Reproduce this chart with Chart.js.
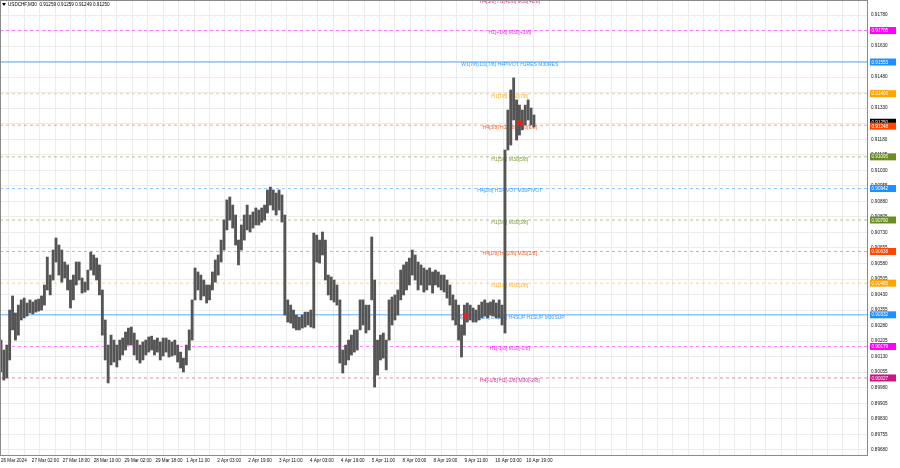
<!DOCTYPE html>
<html><head><meta charset="utf-8">
<script src="https://cdn.jsdelivr.net/npm/chart.js@4.4.1/dist/chart.umd.min.js"></script>
<style>html,body{margin:0;padding:0;background:#fff;}#wrap{width:900px;height:468px;}</style>
</head><body><div id="wrap"><canvas id="c" width="900" height="468"></canvas></div>
<script>
const symbolTitle = "USDCHF,M30  0.91259 0.91259 0.91249 0.91250";
const timeLabels = ["26 Mar 2024","27 Mar 02:00","27 Mar 18:00","28 Mar 10:00","29 Mar 02:00","29 Mar 18:00","1 Apr 11:00","2 Apr 03:00","2 Apr 19:00","3 Apr 11:00","4 Apr 03:00","4 Apr 19:00","5 Apr 11:00","8 Apr 03:00","8 Apr 19:00","9 Apr 11:00","10 Apr 03:00","10 Apr 19:00"];
const barStep = 3;
const highs = [
0.90210,0.90162,0.90186,0.90355,0.90423,0.90341,0.90379,0.90404,0.90413,0.90389,
0.90404,0.90394,0.90404,0.90408,0.90423,0.90476,0.90611,0.90524,0.90645,0.90703,
0.90669,0.90645,0.90587,0.90573,0.90500,0.90524,0.90587,0.90587,0.90510,0.90490,
0.90548,0.90635,0.90621,0.90606,0.90573,0.90452,0.90307,0.90186,0.90234,0.90210,
0.90186,0.90210,0.90220,0.90249,0.90268,0.90273,0.90244,0.90210,0.90186,0.90201,
0.90210,0.90225,0.90229,0.90210,0.90220,0.90201,0.90220,0.90220,0.90210,0.90201,
0.90210,0.90186,0.90152,0.90123,0.90186,0.90259,0.90404,0.90558,0.90539,0.90524,
0.90500,0.90476,0.90476,0.90539,0.90597,0.90621,0.90693,0.90790,0.90887,0.90901,
0.90862,0.90814,0.90693,0.90766,0.90814,0.90862,0.90814,0.90829,0.90848,0.90838,
0.90848,0.90862,0.90935,0.90949,0.90935,0.90920,0.90935,0.90911,0.90814,0.90404,
0.90379,0.90355,0.90331,0.90321,0.90331,0.90345,0.90345,0.90355,0.90727,0.90717,
0.90693,0.90732,0.90693,0.90524,0.90515,0.90500,0.90476,0.90404,0.90162,0.90186,
0.90210,0.90234,0.90259,0.90259,0.90404,0.90404,0.90379,0.90379,0.90708,0.90500,
0.90210,0.90234,0.90244,0.90210,0.90404,0.90418,0.90428,0.90452,0.90548,0.90573,
0.90587,0.90606,0.90645,0.90621,0.90587,0.90573,0.90558,0.90548,0.90558,0.90539,
0.90548,0.90539,0.90524,0.90524,0.90500,0.90476,0.90428,0.90404,0.90379,0.90283,
0.90379,0.90389,0.90379,0.90365,0.90355,0.90379,0.90394,0.90404,0.90389,0.90394,
0.90404,0.90389,0.90404,0.90379,0.91128,0.91321,0.91418,0.91476,0.91370,0.91345,
0.91321,0.91345,0.91370,0.91331,0.91297];
const lows = [
0.90056,0.90017,0.90027,0.90114,0.90259,0.90210,0.90234,0.90307,0.90317,0.90326,
0.90341,0.90336,0.90345,0.90350,0.90355,0.90379,0.90452,0.90428,0.90500,0.90587,
0.90524,0.90490,0.90510,0.90452,0.90365,0.90404,0.90476,0.90500,0.90437,0.90442,
0.90452,0.90548,0.90524,0.90500,0.90428,0.90234,0.90114,0.90003,0.90090,0.90104,
0.90080,0.90114,0.90138,0.90162,0.90186,0.90186,0.90138,0.90114,0.90099,0.90114,
0.90138,0.90152,0.90162,0.90138,0.90152,0.90114,0.90133,0.90152,0.90128,0.90133,
0.90138,0.90104,0.90075,0.90056,0.90090,0.90162,0.90210,0.90404,0.90452,0.90404,
0.90423,0.90389,0.90404,0.90452,0.90490,0.90524,0.90587,0.90645,0.90742,0.90790,
0.90751,0.90669,0.90573,0.90645,0.90693,0.90742,0.90732,0.90751,0.90766,0.90766,
0.90780,0.90790,0.90824,0.90862,0.90838,0.90814,0.90838,0.90780,0.90331,0.90297,
0.90292,0.90268,0.90259,0.90259,0.90268,0.90273,0.90283,0.90273,0.90268,0.90587,
0.90582,0.90621,0.90500,0.90428,0.90404,0.90394,0.90379,0.90099,0.90051,0.90090,
0.90114,0.90138,0.90152,0.90162,0.90259,0.90283,0.90244,0.90259,0.90404,0.89983,
0.90041,0.90114,0.90123,0.90066,0.90210,0.90283,0.90307,0.90331,0.90404,0.90428,
0.90452,0.90476,0.90524,0.90500,0.90452,0.90476,0.90442,0.90452,0.90476,0.90437,
0.90476,0.90466,0.90452,0.90442,0.90413,0.90379,0.90307,0.90283,0.90210,0.90128,
0.90234,0.90297,0.90307,0.90297,0.90297,0.90307,0.90317,0.90326,0.90317,0.90331,
0.90326,0.90317,0.90317,0.90283,0.90244,0.91128,0.91152,0.91273,0.91176,0.91200,
0.91225,0.91249,0.91273,0.91249,0.91239];
const priceTicks = [0.89680,0.89755,0.89830,0.89905,0.89980,0.90055,0.90130,0.90205,0.90280,0.90355,0.90430,0.90505,0.90580,0.90655,0.90730,0.90805,0.90880,0.90955,0.91030,0.91105,0.91180,0.91255,0.91330,0.91405,0.91480,0.91555,0.91630,0.91705,0.91780];
const levelPrices = [0.91858,0.91705,0.91553,0.91400,0.91248,0.91095,0.90942,0.90790,0.90638,0.90485,0.90332,0.90179,0.90027];
const levelNames = ["H4[5/8] H1[+2/8] M30[+2/8]","H1[+1/8] M30[+1/8]","W1[7/8] D1[7/8] H4PIVOT H1RES M30RES","H1[7/8] M30[7/8]","H4[3/8] H1[6/8] M30[6/8]","H1[5/8] M30[5/8]","H4[2/8] H1PIVOT M30PIVOT","H1[3/8] M30[3/8]","H4[1/8] H1[2/8] M30[2/8]","H1[1/8] M30[1/8]","H4[0/8] W1[6/8] D1[6/8] H4SUP H1SUP M30SUP","H1[-1/8] M30[-1/8]","H4[-1/8] H1[-2/8] M30[-2/8]"];
const levelColors = ["#c71585","#ff00ff","#1e90ff","#ffa500","#ff4500","#6b8e23","#1e90ff","#6b8e23","#ff4500","#ffa500","#1e90ff","#ff00ff","#c71585"];
const levelSolid = [false,false,true,false,false,false,false,false,false,false,true,false,false];
const markerBars = [481, 537];
const markerPrices = [0.90326, 0.91259];
const lastPrice = 0.91250;
const levelTextBar = 527;

function alpha(hex, a){const n=parseInt(hex.slice(1),16);return `rgba(${n>>16},${(n>>8)&255},${n&255},${a})`;}

const datasets = [];
datasets.push({type:'bar', label:'candles', order:1,
  data: highs.map((h,i)=>({x:i*barStep, y:[lows[i], h]})),
  backgroundColor:'#555555', borderWidth:0, barThickness:2.2});
datasets.push({type:'bubble', label:'marks', order:0,
  data: markerBars.map((b,i)=>({x:b, y:markerPrices[i], r:3.5})),
  pointStyle:'crossRot', borderColor:'#ff1a1a', borderWidth:2, backgroundColor:'#ff1a1a'});
levelPrices.forEach((p,i)=>{
  datasets.push({type:'line', label:'lvl'+i, order:2,
    data:[{x:-1,y:p},{x:898,y:p}],
    borderColor: levelSolid[i] ? alpha(levelColors[i],0.75) : alpha(levelColors[i],0.5),
    borderWidth:1, borderDash: levelSolid[i] ? [] : [3,3], pointRadius:0, tension:0});
});

const FONT = "'Liberation Sans', Arial, sans-serif";
const overlay = {
  id:'overlay',
  beforeDatasetsDraw(chart){
    const {ctx, chartArea:a, scales:{x,y}} = chart;
    ctx.save();
    ctx.beginPath(); ctx.rect(a.left,a.top,a.right-a.left,a.bottom-a.top); ctx.clip();
    ctx.font = "5px " + FONT; ctx.textAlign='center'; ctx.textBaseline='middle';
    const cx = x.getPixelForValue(levelTextBar);
    levelPrices.forEach((p,i)=>{
      ctx.fillStyle = alpha(levelColors[i],0.9);
      ctx.fillText(levelNames[i], cx, y.getPixelForValue(p)+2.5);
    });
    ctx.restore();
  },
  afterDraw(chart){
    const {ctx, chartArea:a, scales:{y}} = chart;
    ctx.save();
    ctx.strokeStyle='#8a8a8a'; ctx.lineWidth=1;
    ctx.strokeRect(a.left+0.5,a.top+0.5,a.right-a.left-1,a.bottom-a.top);
    ctx.font = "4.6px " + FONT; ctx.textBaseline='middle'; ctx.textAlign='left';
    const box = (p,bg,txt,dy)=>{
      const py = y.getPixelForValue(p)+(dy||0);
      ctx.fillStyle=bg; ctx.fillRect(a.right+2, py-3.5, 26, 7);
      ctx.fillStyle='#fff'; ctx.fillText(txt, a.right+3.5, py+0.3);
    };
    levelPrices.forEach((p,i)=>{
      if (i===0) return;
      if (i===4) box(lastPrice,'#000000',lastPrice.toFixed(5),-2.5);
      box(p, levelColors[i], p.toFixed(5), i===4?1:0);
    });
    ctx.fillStyle='#000';
    ctx.beginPath(); ctx.moveTo(2,3); ctx.lineTo(6,3); ctx.lineTo(4,6); ctx.closePath(); ctx.fill();
    ctx.font = "4.6px " + FONT; ctx.textAlign='left'; ctx.textBaseline='middle';
    ctx.fillText(symbolTitle, 8, 4.8);
    ctx.restore();
  }
};

const gridBars = []; for (let b=0; b<=896; b+=16) gridBars.push(b);

const chart = new Chart(document.getElementById('c'), {
  type:'bar',
  data:{datasets},
  options:{
    responsive:false, devicePixelRatio:1, animation:false,
    layout:{padding:0, autoPadding:false},
    plugins:{legend:{display:false}, tooltip:{enabled:false}},
    scales:{
      x:{type:'linear', min:-1, max:898, offset:false,
        grid:{color:'#ececec', drawTicks:false, lineWidth:1},
        border:{display:false},
        afterBuildTicks:s=>{s.ticks = gridBars.map(v=>({value:v}));},
        afterFit:s=>{s.height=13; s.paddingLeft=0; s.paddingRight=0; s.paddingTop=0; s.paddingBottom=0;},
        ticks:{autoSkip:false, maxRotation:0, minRotation:0, align:'start', padding:3,
          color:'#111', font:{size:4.6, family:FONT},
          callback:(v)=> (v%32===0 && v/32 < timeLabels.length) ? timeLabels[v/32] : ''}},
      y:{type:'linear', position:'right', min:0.89655, max:0.918525,
        grid:{color:'#ececec', drawTicks:false, lineWidth:1},
        border:{display:false},
        afterBuildTicks:s=>{s.ticks = priceTicks.map(v=>({value:v}));},
        afterFit:s=>{s.width=32; s.paddingLeft=0; s.paddingRight=0; s.paddingTop=0; s.paddingBottom=0;},
        ticks:{padding:3, color:'#111', font:{size:4.6, family:FONT},
          callback:(v)=>Number(v).toFixed(5)}}
    }
  },
  plugins:[overlay]
});
chart.data.datasets.forEach((d,i)=>{ chart.getDatasetMeta(i).controller.getMaxOverflow = () => 0; });
chart.update();
</script></body></html>
